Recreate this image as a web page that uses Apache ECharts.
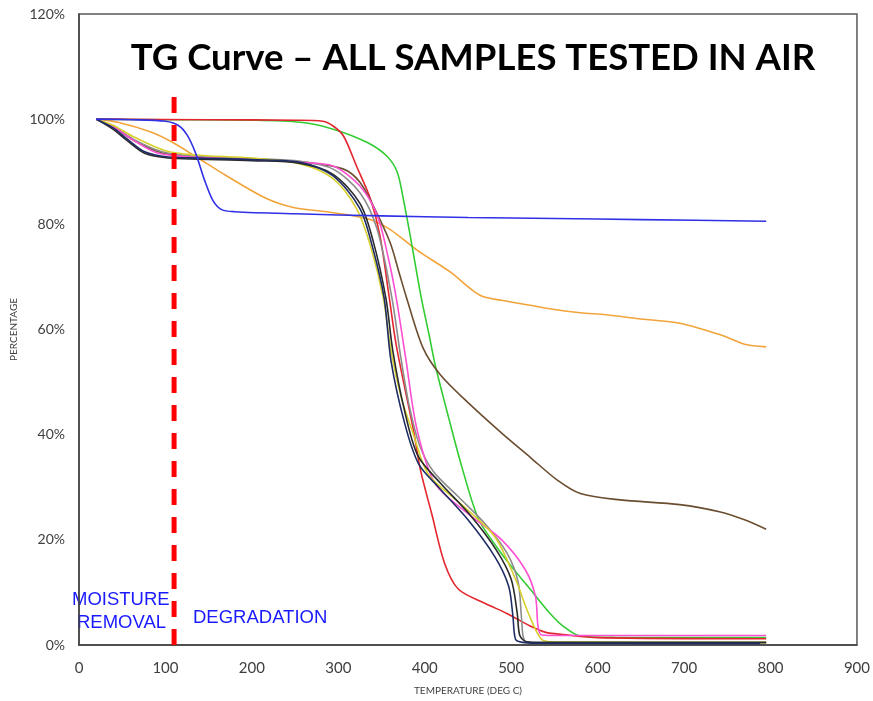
<!DOCTYPE html>
<html>
<head>
<meta charset="utf-8">
<script src="https://cdn.jsdelivr.net/npm/echarts@6/dist/echarts.min.js"></script>
<style>
html, body { margin: 0; padding: 0; background: #fff; }
#container { width: 873px; height: 701px; }
</style>
</head>
<body>
<div id="container"></div>
<script>
var dom = document.getElementById("container");
var myChart = echarts.init(dom);

// [temperature (deg C), percentage]
var blueData = [[20,100],[60,99.9],[100,99.6],[115,98.8],[125,97],[135,93.5],[145,88.5],[155,84.5],[165,82.8],[180,82.4],[250,82],[350,81.6],[450,81.3],[550,81.1],[650,80.9],[795,80.6]];
var orangeData = [[20,100],[45,99.4],[84,97.5],[108,95.6],[134,93],[171,89.2],[217,84.9],[248,83.2],[290,82.3],[333,81.1],[360,79],[391,75.1],[429,71],[464,66.5],[490,65.5],[522,64.6],[550,63.8],[580,63.2],[610,62.8],[650,62],[695,61.2],[742,59],[770,57.2],[795,56.7]];
var greenData = [[20,100],[100,99.9],[200,99.8],[256,99.4],[294,98.1],[333,95.6],[356,93],[368,90],[375,85],[383,78],[396,66],[405,59],[412,53.3],[428,43],[442,34.4],[462,24],[483,18.7],[500,15],[522,10.6],[545,6],[560,3.6],[580,1.7],[620,1.45],[795,1.4]];
var redData = [[20,100],[150,99.9],[250,99.8],[282,99.6],[294,98.7],[306,96.8],[321,91.1],[337,84.9],[348,78],[359,66],[366,58],[373,52],[387,40.8],[395,33.3],[408,25],[423,15.5],[439,10.6],[470,7.9],[495,6],[522,3.6],[540,2.4],[560,2],[600,1.4],[795,1.2]];
var brownData = [[20,100],[40,98.5],[65,95.8],[96,93.6],[130,92.8],[200,92.3],[256,91.9],[306,90.5],[325,88],[342,83],[360,76.5],[370,71],[379,66],[398,56.5],[418,51.4],[452,45.8],[491,40],[522,35.7],[553,31.4],[580,28.8],[626,27.6],[695,26.7],[742,25.3],[770,23.8],[795,22]];
var navyData = [[20,100],[40,98.3],[53,96.6],[76,93.8],[103,92.8],[140,92.6],[200,92.3],[256,91.8],[294,89.2],[325,83],[340,75.4],[353,66],[361,54],[377,42],[393,34.4],[416,30],[450,23.8],[481,16.8],[497,11.2],[502,5.5],[505,1.1],[513,0.5],[530,0.35],[788,0.3]];
var blackData = [[20,100],[40,98],[55,96],[76,93.5],[103,92.6],[140,92.4],[200,92.1],[256,91.6],[294,89.5],[325,84],[340,77],[355,66],[363,56],[376,45],[392,36],[418,30.8],[452,24.8],[483,18],[500,12.5],[507,6],[510,1.8],[518,0.6],[540,0.5],[795,0.5]];
var grayData = [[20,100],[40,98.6],[65,96],[96,93.8],[130,93],[200,92.5],[256,92],[294,90.5],[325,86],[345,79],[362,66],[372,55],[382,45.5],[394,38],[410,33],[440,28],[470,23],[495,17.5],[508,12],[512,5],[515,1],[525,0.4],[795,0.4]];
var pinkData = [[20,100],[40,98.5],[60,96.3],[90,93.6],[130,92.8],[200,92.3],[256,91.8],[294,91.1],[325,87.3],[345,81.7],[358,73.5],[367,66],[378,54.5],[391,41],[412,30.7],[450,25],[489,20],[516,14.4],[528,9.3],[531,3.6],[535,1.9],[560,1.8],[795,1.8]];
var yellowData = [[20,100],[40,98.8],[65,96.5],[100,94],[134,93.2],[200,92.6],[256,91.5],[294,88.7],[321,83],[337,76],[352,66],[361,56],[373,47],[386,40.5],[404,32.5],[442,26.8],[481,20.6],[505,12.5],[520,6],[535,1.1],[550,0.6],[795,0.5]];

var sampleNames = ['S1', 'S2', 'S3', 'S4', 'S5', 'S6', 'S7', 'S8', 'S9', 'S10'];
var sampleData = [orangeData, greenData, redData, brownData, grayData, pinkData, yellowData, blackData, navyData, blueData];
var sampleColors = ['#f2a43a', '#33cc33', '#e3262d', '#6b4d30', '#8c8c8c', '#ff4fd2', '#d6cf2c', '#2a2a2a', '#1f2d66', '#3030e6'];

// moisture / degradation divider
var dividerData = [[110, 0], [110, 104.3]];

var series = [];
for (var i = 0; i < sampleData.length; i++) {
    series.push({
        name: sampleNames[i],
        type: 'line',
        data: sampleData[i],
        showSymbol: false,
        smooth: 0.3,
        lineStyle: { color: sampleColors[i], width: 1.6 },
        z: 3
    });
}
series.push({
    name: 'divider',
    type: 'line',
    data: dividerData,
    showSymbol: false,
    lineStyle: { color: '#ff0000', width: 5, type: [16, 12] },
    z: 4
});

var option = {
    animation: false,
    title: {
        text: 'TG Curve \u2013 ALL SAMPLES TESTED IN AIR',
        left: 468,
        top: 35,
        textAlign: 'center',
        textStyle: { fontFamily: 'Lato', fontWeight: 'bold', fontSize: 36.5, color: '#000' }
    },
    grid: {
        left: 79, right: 15, top: 14, bottom: 52,
        show: true,
        borderColor: '#5a5a5a',
        borderWidth: 1.5
    },
    xAxis: {
        type: 'value',
        min: 0, max: 900, interval: 100,
        name: 'TEMPERATURE (DEG C)',
        nameLocation: 'middle',
        nameGap: 41,
        nameTextStyle: { fontFamily: 'Lato', fontSize: 10, color: '#404040' },
        axisLine: { show: true, lineStyle: { color: '#404040', width: 1.5 } },
        axisTick: { show: false },
        splitLine: { show: false },
        axisLabel: { margin: 16, fontFamily: 'Lato', fontSize: 15, color: '#404040' }
    },
    yAxis: {
        type: 'value',
        min: 0, max: 120, interval: 20,
        name: 'PERCENTAGE',
        nameLocation: 'middle',
        nameGap: 60,
        nameTextStyle: { fontFamily: 'Lato', fontSize: 10, color: '#404040' },
        axisLine: { show: true, lineStyle: { color: '#404040', width: 1.5 } },
        axisTick: { show: false },
        splitLine: { show: false },
        axisLabel: { margin: 14, fontFamily: 'Lato', fontSize: 14, color: '#404040', formatter: '{value}%' }
    },
    graphic: [
        { type: 'text', left: 72, top: 590, style: { text: 'MOISTURE', fontFamily: 'Liberation Sans', fontSize: 18.5, fill: '#1a1aff' } },
        { type: 'text', left: 77, top: 613, style: { text: 'REMOVAL', fontFamily: 'Liberation Sans', fontSize: 18.5, fill: '#1a1aff' } },
        { type: 'text', left: 193, top: 608, style: { text: 'DEGRADATION', fontFamily: 'Liberation Sans', fontSize: 18.5, fill: '#1a1aff' } }
    ],
    series: series
};

if (option && typeof option === "object") {
    myChart.setOption(option, true);
}
</script>
</body>
</html>
